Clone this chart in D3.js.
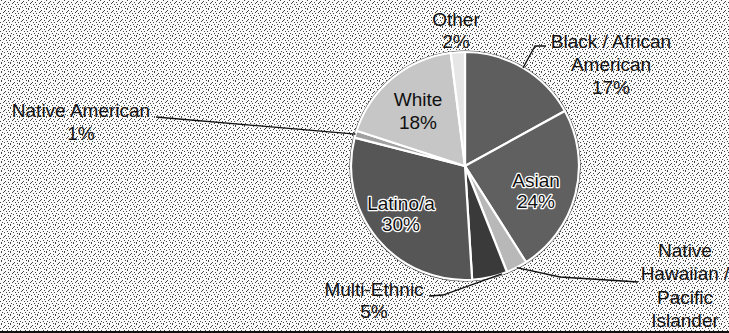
<!DOCTYPE html>
<html>
<head>
<meta charset="utf-8">
<script src="https://cdn.jsdelivr.net/npm/d3@7"></script>
<style>
  html, body { margin: 0; padding: 0; background: #fff; }
  svg { display: block; }
  text { font-family: "Liberation Sans", Arial, sans-serif; font-size: 19px; fill: #111; }
</style>
</head>
<body>
<svg id="chart" width="729" height="333"></svg>
<script>
// ---- data (clockwise from 12 o'clock) ----
const categories = ["Black / African American", "Asian", "Native Hawaiian / Pacific Islander",
                    "Multi-Ethnic", "Latino/a", "Native American", "White", "Other"];
const percentages = [17, 24, 3, 5, 30, 1, 18, 2];
const labelLines = [
  ["Black / African", "American", "17%"],
  ["Asian", "24%"],
  ["Native", "Hawaiian /", "Pacific", "Islander"],
  ["Multi-Ethnic", "5%"],
  ["Latino/a", "30%"],
  ["Native American", "1%"],
  ["White", "18%"],
  ["Other", "2%"]
];

// ---- styling / layout (not data) ----
const fills = ["#5e5e5e", "#606060", "#b8b8b8", "#3a3a3a", "#565656", "#a0a0a0", "#c6c6c6", "#e6e6e6"];
const cx = 465, cy = 166, R = 114;
const labelPos = [
  {x: 611, y: 48, gap: 23, halo: false},
  {x: 536, y: 187, gap: 21, halo: true},
  {x: 685, y: 257, gap: 23.3, halo: false},
  {x: 374, y: 296, gap: 22, halo: false},
  {x: 401, y: 210, gap: 21, halo: true},
  {x: 81, y: 117, gap: 22.5, halo: false},
  {x: 418, y: 106, gap: 22.5, halo: false},
  {x: 456, y: 26, gap: 22, halo: false}
];
const leaders = [
  {f: 0.5, pts: [[535, 46], [546, 46]]},
  null,
  {f: 0.5, pts: [[560, 277], [623, 281], [638, 282]]},
  {f: 0.15, pts: [[443, 295], [429, 296]]},
  null,
  {f: 0.5, pts: [[156, 117]]},
  null,
  null
];

const svg = d3.select("#chart");
const defs = svg.append("defs");

const dots = [[1,0],[5,1],[8,2],[3,3],[0,4],[6,4],[2,6],[7,6],[4,7],[1,8],[8,8],[4,2]];
const pat = defs.append("pattern").attr("id", "stip").attr("width", 9).attr("height", 9)
  .attr("patternUnits", "userSpaceOnUse");
pat.append("rect").attr("width", 9).attr("height", 9).attr("fill", "#fafafa");
pat.selectAll("rect.d").data(dots).join("rect").attr("class", "d")
  .attr("x", d => d[0]).attr("y", d => d[1]).attr("width", 1).attr("height", 1).attr("fill", "#444");

svg.append("rect").attr("width", 729).attr("height", 333).attr("fill", "url(#stip)");
svg.append("rect").attr("x", 0).attr("y", 331).attr("width", 729).attr("height", 2).attr("fill", "#111");

const data = categories.map((c, i) => ({cat: c, value: percentages[i], i}));
const pie = d3.pie().sort(null).value(d => d.value).startAngle(0).endAngle(2 * Math.PI);
const arcs = pie(data);
const arc = d3.arc().innerRadius(0).outerRadius(R);

const g = svg.append("g").attr("transform", `translate(${cx},${cy})`);
g.append("circle").attr("r", R + 1).attr("fill", "none").attr("stroke", "#333").attr("stroke-width", 1.2);
g.selectAll("path.slice").data(arcs).join("path").attr("class", "slice")
  .attr("d", arc)
  .attr("fill", d => fills[d.data.i])
  .attr("stroke", "#fff").attr("stroke-width", 2.2).attr("stroke-linejoin", "round");

const line = d3.line();
arcs.forEach(a => {
  const L = leaders[a.data.i];
  if (!L) return;
  const ang = a.startAngle + (a.endAngle - a.startAngle) * L.f;
  const p0 = [cx + R * Math.sin(ang), cy - R * Math.cos(ang)];
  svg.append("path").attr("d", line([p0, ...L.pts]))
    .attr("fill", "none").attr("stroke", "#111").attr("stroke-width", 1.3);
});

arcs.forEach(a => {
  const p = labelPos[a.data.i];
  const t = svg.append("text").attr("text-anchor", "middle")
    .attr("x", p.x).attr("y", p.y);
  if (p.halo) {
    t.attr("stroke", "#fff").attr("stroke-width", 2.5).attr("paint-order", "stroke")
     .attr("stroke-linejoin", "round");
  }
  labelLines[a.data.i].forEach((s, k) => {
    t.append("tspan").attr("x", p.x).attr("y", p.y + k * p.gap).text(s);
  });
});
</script>
</body>
</html>
